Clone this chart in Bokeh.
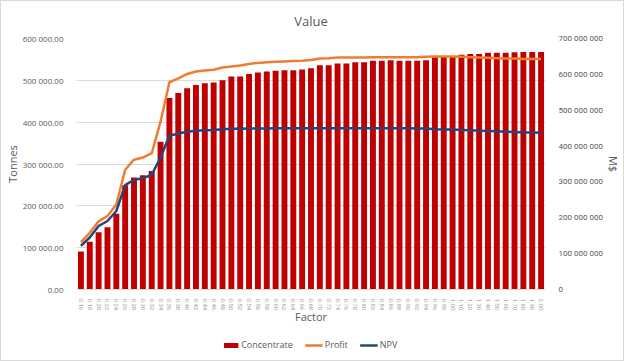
from bokeh.plotting import figure
from bokeh.layouts import column
from bokeh.models import (ColumnDataSource, FactorRange, Range1d, LinearAxis,
                          CustomJSTickFormatter, SingleIntervalTicker, Legend, LegendItem)
from bokeh.embed import file_html
from bokeh.resources import INLINE

factors = ["0.16", "0.18", "0.20", "0.22", "0.24", "0.26", "0.28", "0.30", "0.32", "0.34",
           "0.36", "0.38", "0.40", "0.42", "0.44", "0.46", "0.48", "0.50", "0.52", "0.54",
           "0.56", "0.58", "0.60", "0.62", "0.64", "0.66", "0.68", "0.70", "0.72", "0.74",
           "0.76", "0.78", "0.80", "0.82", "0.84", "0.86", "0.88", "0.90", "0.92", "0.94",
           "0.96", "0.98", "1.00", "1.10", "1.20", "1.30", "1.40", "1.50", "1.60", "1.70",
           "1.80", "1.90", "2.00"]

# Tonnes
concentrate = [91000, 114000, 137000, 149000, 181000, 249000, 268000, 273000, 283000, 353000,
               458000, 470000, 481000, 489000, 493000, 495000, 500000, 509000, 509000, 515000,
               519000, 521000, 523000, 524000, 524000, 526000, 529000, 536000, 536000, 540000,
               540000, 543000, 543000, 547000, 547000, 548000, 547000, 547000, 547000, 548000,
               555000, 557000, 557000, 561000, 563000, 563000, 566000, 566000, 566000, 567000,
               568000, 568000, 568000]

# M$ (millions)
profit = [132, 158, 190, 205, 237, 334, 362, 368, 380, 468,
          578, 589, 601, 608, 611, 613, 619, 622, 625, 629,
          632, 634, 635, 636, 637, 638, 640, 644, 645, 647,
          647, 647, 647, 648, 648, 648, 648, 648, 648, 649,
          650, 650, 650, 649, 648, 647, 646, 645, 644, 644,
          643, 643, 643]

npv = [122, 145, 177, 191, 219, 291, 306, 310, 320, 368,
       429, 435, 440, 443, 444, 445, 447, 448, 448, 449,
       449, 449, 450, 450, 450, 450, 450, 450, 450, 450,
       450, 450, 450, 450, 450, 450, 450, 450, 449, 449,
       447, 446, 446, 445, 444, 443, 442, 441, 440, 439,
       438, 438, 437]

series_names = ["Concentrate", "Profit", "NPV"]
series_colors = ["#c00000", "#ed7d31", "#264478"]

src = ColumnDataSource(dict(f=factors, c=concentrate, p=profit, n=npv))

TXT = "#595959"
FONT = "Open Sans"
TICKFONT = "Roboto"

p = figure(width=622, height=335,
           x_range=FactorRange(factors=factors, range_padding=0),
           y_range=Range1d(0, 600000),
           output_backend="svg", toolbar_location=None,
           min_border_left=73, min_border_right=78, min_border_top=35, min_border_bottom=47,
           title="Value")
p.extra_y_ranges = {"m": Range1d(0, 700)}
p.outline_line_color = None
p.background_fill_color = "white"
p.border_fill_color = "white"

p.title.align = "center"
p.title.text_font = FONT
p.title.text_font_size = "13px"
p.title.text_font_style = "normal"
p.title.text_color = TXT
p.title.standoff = 17

bars = p.vbar(x="f", top="c", width=0.67, source=src, fill_color=series_colors[0], line_color=None)
pl = p.line(x="f", y="p", source=src, y_range_name="m", line_color=series_colors[1],
            line_width=2.5, line_join="round")
nl = p.line(x="f", y="n", source=src, y_range_name="m", line_color=series_colors[2],
            line_width=2.5, line_join="round")

p.xgrid.grid_line_color = None
p.ygrid.grid_line_color = "#d9d9d9"
p.ygrid.grid_line_width = 1

ly = p.yaxis[0]
ly.ticker = SingleIntervalTicker(interval=100000)
ly.formatter = CustomJSTickFormatter(code="""
const s = Math.round(tick).toString().replace(/\\B(?=(\\d{3})+(?!\\d))/g, " ");
return s + ".00";
""")
ly.axis_label = "Tonnes"

ra = LinearAxis(y_range_name="m", axis_label="M$",
                ticker=SingleIntervalTicker(interval=100))
ra.formatter = CustomJSTickFormatter(code="""
return tick == 0 ? "0" : Math.round(tick) + " 000 000";
""")
p.add_layout(ra, "right")

for ax in (ly, ra):
    ax.axis_line_color = None
    ax.major_tick_line_color = None
    ax.minor_tick_line_color = None
    ax.major_label_text_font_size = "8px"
    ax.major_label_text_color = TXT
    ax.major_label_standoff = 7
    ax.axis_label_text_font = FONT
    ax.axis_label_text_font_size = "11px"
    ax.axis_label_text_font_style = "normal"
    ax.axis_label_text_color = TXT
    ax.axis_label_standoff = 0
ly.major_label_text_font = FONT
ra.major_label_text_font = TICKFONT
ly.axis_label_text_baseline = "top"
ra.axis_label_text_baseline = "top"

xa = p.xaxis[0]
xa.axis_label = "Factor"
xa.axis_line_color = "#d9d9d9"
xa.major_tick_line_color = None
xa.minor_tick_line_color = None
xa.major_label_orientation = "vertical"
xa.major_label_text_font = TICKFONT
xa.major_label_text_font_size = "6px"
xa.major_label_text_color = "#a6a6a6"
xa.major_label_standoff = 3
xa.axis_label_text_font = FONT
xa.axis_label_text_font_size = "11px"
xa.axis_label_text_font_style = "normal"
xa.axis_label_text_color = TXT
xa.axis_label_standoff = -4

# legend strip below the chart (its renderers use the same data, mapped far out of view)
lg = figure(width=622, height=24, x_range=p.x_range, y_range=Range1d(1e9, 2e9),
            x_axis_type=None, y_axis_type=None, output_backend="svg",
            toolbar_location=None, min_border=0)
lg.outline_line_color = None
lg.grid.visible = False
r0 = lg.vbar(x="f", top="c", width=0.67, source=src, fill_color=series_colors[0], line_color=None)
r1 = lg.line(x="f", y="p", source=src, line_color=series_colors[1], line_width=2.5)
r2 = lg.line(x="f", y="n", source=src, line_color=series_colors[2], line_width=2.5)
legend = Legend(items=[LegendItem(label=series_names[0], renderers=[r0]),
                       LegendItem(label=series_names[1], renderers=[r1]),
                       LegendItem(label=series_names[2], renderers=[r2])],
                orientation="horizontal", location="top_center")
legend.border_line_color = None
legend.background_fill_alpha = 0
legend.label_text_font = FONT
legend.label_text_font_size = "9px"
legend.label_text_color = TXT
legend.glyph_width = 18
legend.glyph_height = 6
legend.label_standoff = 2
legend.spacing = 12
legend.padding = 2
legend.margin = 2
legend.label_height = 10
lg.add_layout(legend, "center")

layout = column(p, lg, spacing=0)
layout.styles = {"border": "1px solid #d9d9d9"}

open("out.html", "w").write(file_html(layout, INLINE))
